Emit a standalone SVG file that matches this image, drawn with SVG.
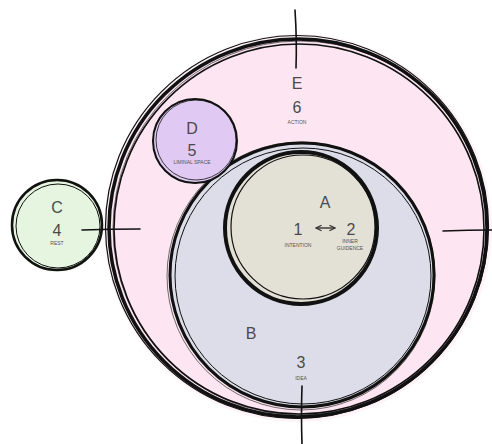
<svg xmlns="http://www.w3.org/2000/svg" width="492" height="444" viewBox="0 0 492 444">
<style>
.big{font-family:"Liberation Sans",Arial,sans-serif;font-size:16px;fill:#4a4a4a;text-anchor:middle}
.sm{font-family:"Liberation Sans",Arial,sans-serif;font-size:5px;fill:#555;text-anchor:middle}
.ink{fill:none;stroke:#111}
.tick{stroke:#111;stroke-width:1.6;stroke-linecap:round;fill:none}
</style>
<defs>
<marker id="ah" viewBox="0 0 10 10" refX="9" refY="5" markerWidth="5" markerHeight="5" orient="auto-start-reverse">
<path d="M1,1 L9,5 L1,9" fill="none" stroke="#333" stroke-width="1.6"/>
</marker>
</defs>
<rect width="492" height="444" fill="#ffffff"/>
<g id="node-E">
<circle cx="298" cy="228" r="194" fill="#fdeef5" opacity="0.7"/>
<circle cx="298" cy="228" r="189" fill="#fde6f1"/>
<circle class="ink" cx="298" cy="228" r="189" stroke-width="3.5"/>
<circle class="ink" cx="299" cy="229" r="185" stroke-width="1.6"/>
<circle class="ink" cx="297" cy="227" r="191.5" stroke-width="1.2"/>
<circle class="ink" cx="300" cy="228" r="187" stroke-width="0.6"/>
<text class="big" x="297" y="89">E</text>
<text class="big" x="297" y="113">6</text>
<text class="sm" x="297" y="124">ACTION</text>
</g>
<g id="node-B">
<circle cx="302" cy="275" r="132" fill="#dcdde9"/>
<circle class="ink" cx="302" cy="275" r="132" stroke-width="3"/>
<circle class="ink" cx="303" cy="276" r="128" stroke-width="1"/>
<circle class="ink" cx="301" cy="276" r="134" stroke-width="0.6"/>
<text class="big" x="251" y="339">B</text>
<text class="big" x="301" y="368">3</text>
<text class="sm" x="301" y="380">IDEA</text>
</g>
<g id="node-A">
<circle cx="301" cy="228" r="76" fill="#e3e0d6"/>
<circle class="ink" cx="301" cy="228" r="76" stroke-width="4"/>
<circle class="ink" cx="303" cy="227" r="72" stroke-width="1.2"/>
<text class="big" x="325" y="208">A</text>
<text class="big" x="298" y="235">1</text>
<text class="big" x="351" y="235">2</text>
<text class="sm" x="298" y="247">INTENTION</text>
<text class="sm" x="350" y="243">INNER</text>
<text class="sm" x="350" y="250">GUIDENCE</text>
</g>
<g id="node-D">
<circle cx="195" cy="141" r="42" fill="#e0c9f3"/>
<circle class="ink" cx="195" cy="141" r="42" stroke="#1a1030" stroke-width="2"/>
<circle class="ink" cx="196" cy="140" r="40" stroke="#1a1030" stroke-width="0.8"/>
<text class="big" x="192" y="134">D</text>
<text class="big" x="192" y="156">5</text>
<text class="sm" x="192" y="164">LIMINAL SPACE</text>
</g>
<g id="node-C">
<circle cx="57" cy="225" r="47" fill="#eef9ea" opacity="0.8"/>
<circle cx="57" cy="225" r="45" fill="#e5f5e0"/>
<circle class="ink" cx="57" cy="225" r="45" stroke-width="2.5"/>
<circle class="ink" cx="58" cy="226" r="42" stroke-width="1"/>
<text class="big" x="57" y="213">C</text>
<text class="big" x="57" y="236">4</text>
<text class="sm" x="57" y="245">REST</text>
</g>
<g id="connectors">
<line x1="316" y1="228" x2="335" y2="228" stroke="#333" stroke-width="1.4" marker-start="url(#ah)" marker-end="url(#ah)"/>
<path class="tick" d="M295,10 Q297,40 296,68"/>
<path class="tick" d="M82,230 Q110,229 140,229"/>
<path class="tick" d="M443,231 Q468,230 492,230"/>
<path class="tick" d="M302,386 Q301,415 302,444"/>
</g>
</svg>
